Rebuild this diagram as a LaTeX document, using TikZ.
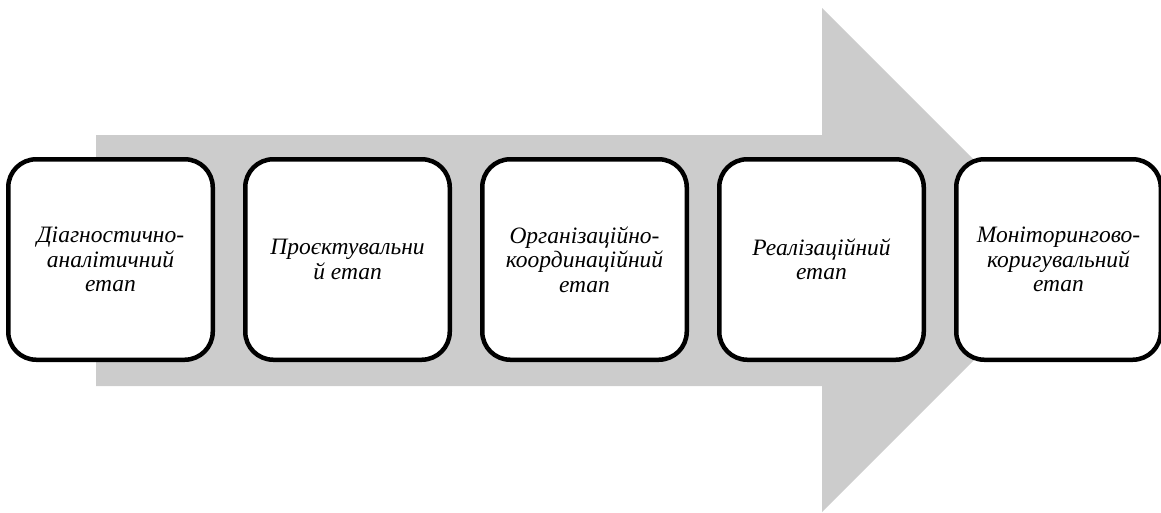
\documentclass[tikz,border=0pt]{standalone}
\usepackage{fontspec}
\setmainfont{Liberation Serif}
\usetikzlibrary{positioning}
\definecolor{arrowgray}{RGB}{204,204,204}

\begin{document}
\begin{tikzpicture}[
    x = 1pt,
    y = -1pt,
    stage/.style = {draw=black, line width=4.5pt, fill=white,
              rounded corners=28pt, minimum width=204.5pt,
              minimum height=200.5pt, inner sep=0pt, align=center,
              font=\itshape\fontsize{23.5}{24.5}\selectfont},
    ]
\useasboundingbox (0,0) rectangle (1161,512);

% big grey arrow behind the stages
\fill[arrowgray] (96,135) -- (822,135) -- (822,8) -- (1074,260)
    -- (822,512) -- (822,386) -- (96,386) -- cycle;

\node[stage] (stage_1) at (110.5,259.5) {Діагностично-\\аналітичний\\етап};
\node[stage, right=28pt of stage_1] (stage_2) {Проєктувальни\\й етап};
\node[stage, right=28pt of stage_2] (stage_3) {Організаційно-\\координаційний\\етап};
\node[stage, right=28pt of stage_3] (stage_4) {Реалізаційний\\етап};
\node[stage, right=28pt of stage_4] (stage_5) {Моніторингово-\\коригувальний\\етап};

\end{tikzpicture}
\end{document}
